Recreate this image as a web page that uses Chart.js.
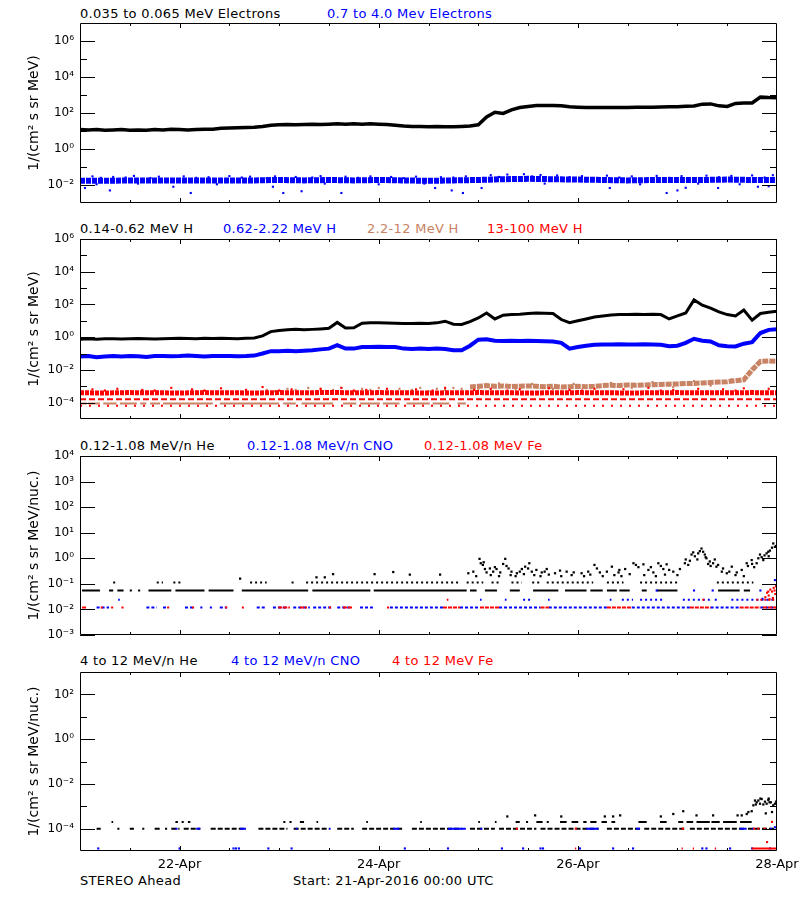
<!DOCTYPE html>
<html>
<head>
<meta charset="utf-8">
<script src="https://cdn.jsdelivr.net/npm/chart.js@4.4.1/dist/chart.umd.min.js"></script>
<style>
body { margin: 0; background: #fff; width: 800px; height: 900px; position: relative; font-family: 'DejaVu Sans', sans-serif; }
.lbl { position: absolute; font-size: 13px; letter-spacing: 0.3px; line-height: 16px; white-space: nowrap; }
.panel { position: absolute; left: 0; }
</style>
</head>
<body>
<div class="lbl" style="left:80px;top:6px">0.035 to 0.065 MeV Electrons</div>
<div class="lbl" style="left:327px;top:6px;color:#0000ff">0.7 to 4.0 Mev Electrons</div>

<div class="lbl" style="left:80px;top:221px">0.14-0.62 MeV H</div>
<div class="lbl" style="left:223px;top:221px;color:#0000ff">0.62-2.22 MeV H</div>
<div class="lbl" style="left:367px;top:221px;color:#c88264">2.2-12 MeV H</div>
<div class="lbl" style="left:487px;top:221px;color:#ff0000">13-100 MeV H</div>

<div class="lbl" style="left:80px;top:438px">0.12-1.08 MeV/n He</div>
<div class="lbl" style="left:247px;top:438px;color:#0000ff">0.12-1.08 MeV/n CNO</div>
<div class="lbl" style="left:424px;top:438px;color:#ff0000">0.12-1.08 MeV Fe</div>

<div class="lbl" style="left:80px;top:653px">4 to 12 MeV/n He</div>
<div class="lbl" style="left:231px;top:653px;color:#0000ff">4 to 12 MeV/n CNO</div>
<div class="lbl" style="left:392px;top:653px;color:#ff0000">4 to 12 MeV Fe</div>

<div class="lbl" style="left:80px;top:873px">STEREO Ahead</div>
<div class="lbl" style="left:293px;top:873px">Start: 21-Apr-2016 00:00 UTC</div>

<div class="panel" style="top:11px"><canvas id="c1" width="800" height="204"></canvas></div>
<div class="panel" style="top:227px"><canvas id="c2" width="800" height="204"></canvas></div>
<div class="panel" style="top:444px"><canvas id="c3" width="800" height="203"></canvas></div>
<div class="panel" style="top:660px"><canvas id="c4" width="800" height="221"></canvas></div>

<script>
// hours since 21-Apr-2016 00:00 UTC
const hours2 = [0,2,4,6,8,10,12,14,16,18,20,22,24,26,28,30,32,34,36,38,40,42,44,46,48,50,52,54,56,58,
  60,62,64,66,68,70,72,74,76,78,80,82,84,86,88,90,92,94,96,98,100,102,104,106,108,110,112,114,116,118,
  120,122,124,126,128,130,132,134,136,138,140,142,144,146,148,150,152,154,156,158,160,162,164,166,168];
const hours6 = [0,6,12,18,24,30,36,42,48,54,60,66,72,78,84,90,96,102,108,114,120,126,132,138,144,150,156,162,168];
const hoursLate = [94,96,98,100,102,104,106,108,110,112,114,116,118,120,122,124,126,128,130,132,
  134,136,138,140,142,144,146,148,150,152,154,156,158,160,162,164,166,168];
const dayTickHours = [24, 72, 120, 168];
const dayTickLabels = ['22-Apr', '24-Apr', '26-Apr', '28-Apr'];
const halfDayHours = [12,24,36,48,60,72,84,96,108,120,132,144,156];

// panel 1: electrons
const eLow = [12,11.5,12,11,11.5,12,11,11.5,11,12,11.5,12.5,12,11.5,12,12.5,12.5,14,14.5,15,
  15.5,16,18,21,22,23,22,23,24,23,24,25,24,25,24,25,24,23,21,19,
  18,18,17,18,17,17,18,19,22,60,110,95,150,200,230,260,265,262,250,220,
  210,205,205,200,205,200,205,210,212,210,215,220,225,235,245,310,320,250,230,340,
  355,360,760,720,700];
const eHigh = [0.017,0.017,0.018,0.018,0.018,0.018,0.018,0.018,0.019,0.018,0.019,0.018,0.019,0.018,0.017,
  0.018,0.019,0.021,0.022,0.021,0.02,0.019,0.018,0.019,0.019,0.019,0.02,0.019,0.019];
const eHighUpper = [[3,0.03],[8,0.028],[13,0.032],[19,0.029],[25,0.03],[31,0.027],[36,0.031],[41,0.029],[47,0.03],
  [52,0.028],[58,0.031],[64,0.029],[70,0.03],[75,0.028],[81,0.029],[87,0.027],[93,0.03],[99,0.035],[103,0.038],
  [107,0.04],[111,0.036],[115,0.034],[121,0.031],[127,0.033],[133,0.03],[139,0.032],[145,0.031],[151,0.033],
  [157,0.032],[162,0.034],[167,0.035],[5,0.025],[11,0.026],[17,0.024],[28,0.025],[39,0.026],[45,0.024],[56,0.026],
  [67,0.025],[78,0.024],[90,0.026],[101,0.028],[109,0.03],[118,0.027],[130,0.026],[142,0.025],[154,0.027],[165,0.026]];
const eHighLower = [[1.2,0.0068],[7.2,0.005],[22.5,0.008],[26.7,0.0036],[46.5,0.008],[49,0.0036],[53.4,0.0045],
  [63,0.0036],[85.6,0.0068],[89.6,0.005],[92.3,0.0036],[96.8,0.0068],[127.7,0.0068],[141.4,0.0036],[144,0.005],
  [146,0.007],[153.8,0.0068],[163.4,0.008],[166,0.0085],[4,0.011],[14,0.012],[33,0.011],[59,0.012],[72,0.011],
  [83,0.012],[112,0.012],[135,0.011],[149,0.012],[159,0.011]];

// panel 2: protons
const pLow = [0.75,0.8,0.75,0.8,0.8,0.78,0.8,0.82,0.8,0.78,0.8,0.82,0.85,0.82,0.8,0.85,0.82,0.85,0.82,0.8,
  0.85,0.9,1.2,2.2,2.6,2.8,3.0,2.8,3.0,3.2,3.5,8.0,3.6,3.8,7.2,7.5,7.6,7.4,7.2,6.9,
  6.9,7.0,6.8,7.5,9.5,6.2,6.0,9.0,15,30,13,22,24,25,28,30,29,28,12,7.6,
  10,13,17,20,23,24,24,25,24,25,24,13,20,30,190,90,60,35,24,20,
  45,11,28,33,38];
const pMid = [0.065,0.07,0.06,0.065,0.07,0.065,0.07,0.068,0.062,0.07,0.072,0.068,0.07,0.075,0.07,0.065,0.07,0.072,0.07,0.068,
  0.07,0.075,0.1,0.14,0.14,0.15,0.14,0.15,0.16,0.18,0.2,0.33,0.2,0.2,0.25,0.25,0.26,0.25,0.25,0.2,
  0.19,0.2,0.19,0.2,0.19,0.16,0.16,0.3,0.7,0.75,0.6,0.58,0.6,0.58,0.6,0.58,0.56,0.55,0.45,0.2,
  0.25,0.3,0.35,0.36,0.36,0.37,0.36,0.36,0.37,0.36,0.34,0.28,0.3,0.45,0.8,0.6,0.55,0.32,0.28,0.27,
  0.4,0.5,1.8,2.8,3.1];
const pHigh = [9e-4,1.0e-3,1.1e-3,1.0e-3,1.05e-3,0.95e-3,1.0e-3,1.05e-3,1.0e-3,0.95e-3,1.0e-3,0.9e-3,0.95e-3,1.0e-3,
  0.95e-3,1.0e-3,1.1e-3,1.15e-3,1.1e-3,1.2e-3,1.15e-3,1.2e-3,1.25e-3,1.3e-3,1.35e-3,1.4e-3,1.5e-3,1.5e-3,
  1.6e-3,1.7e-3,1.8e-3,1.9e-3,2.2e-3,2.5e-3,0.01,0.033,0.035,0.034];
const pHighEarlyRuns = [[0,1.6],[2,4.8],[5.6,8.8],[9.6,13.7],[14.5,16],[16.9,19.3],[20,32],[33.7,48],[49,52],
  [53.4,61],[63.4,66.6],[67.5,72.3],[73,77],[78.7,84.3],[85,89],[91,93]];
const pHighEarlyUpper = [[45,6e-4],[47,5e-4],[50,7e-4],[52,6e-4],[55,8e-4],[57,5e-4],[58,7e-4],[61,6e-4],[63,8e-4],
  [66,5e-4],[68,7e-4],[70,6e-4],[72,8e-4],[75,5e-4],[77,7e-4],[80,6e-4],[82,8e-4],[84,5e-4],[86,7e-4],[88,6e-4],
  [90,8e-4],[92,7e-4]];
const pHighLateScatter = [[96,7e-4],[101,1.5e-3],[105,7e-4],[109,1.4e-3],[114,7e-4],[119,1.4e-3],[123,7.5e-4],
  [128,1.6e-3],[133,8e-4],[138,1.8e-3],[143,9e-4],[148,2.1e-3],[152,1.1e-3],[157,2.6e-3]];
const pTop = [4.0e-4,3.9e-4,4.1e-4,4.0e-4,3.9e-4,4.1e-4,4.0e-4,3.9e-4,4.1e-4,4.0e-4,4.2e-4,4.0e-4,4.1e-4,4.0e-4,3.9e-4,
  4.0e-4,4.1e-4,4.0e-4,3.9e-4,4.0e-4,4.1e-4,4.0e-4,3.9e-4,4.0e-4,4.1e-4,4.0e-4,4.0e-4,4.1e-4,4.0e-4];
const pTopUpper = [[3,6.5e-4],[9,7e-4],[15,6e-4],[22,8e-4],[27,6.5e-4],[34,7.5e-4],[40,6e-4],[44,9e-4],[51,6.5e-4],
  [58,7e-4],[63,8e-4],[69,6e-4],[74,7e-4],[81,6.5e-4],[88,8e-4],[95,6e-4],[99,7e-4],[106,6.5e-4],[113,7.5e-4],
  [118,6e-4],[124,7e-4],[131,6.5e-4],[137,8e-4],[143,6e-4],[149,7e-4],[155,6.5e-4],[160,7.5e-4],[166,7e-4],
  [6,5.5e-4],[18,5.5e-4],[30,5.5e-4],[48,5.5e-4],[66,5.5e-4],[85,5.5e-4],[103,5.5e-4],[121,5.5e-4],[140,5.5e-4],[158,5.5e-4]];

// panel 3: 0.12-1.08 MeV/n ions
const heRowLow = [[0.5,4.8],[7,8],[9,10.5],[12,12.5],[14,14.5],[16.5,22],[23,30],[31,37],[39,55],[56,70],
  [70.8,93.2],[94,95.6],[97.6,100.5],[103.6,106],[109.2,115.3],[116.9,122.1],[123,126],[127,129.4],[130,132.5],
  [135.4,136.6],[139,144],[153.8,159],[160,161.5]];
const heRowHigh = [[8,8.5],[18.5,20],[22.5,24.5],[41,45],[51,51.5],[54.5,91.6],[93.2,97.2],[99.2,101.3],[104,106.5],
  [109,110.9],[112.5,123.7],[127,131],[135,144.6],[153.5,162.3]];
const heCloud = [[38.6,0.16],[57,0.18],[59,0.18],[61,0.24],[71,0.24],[75.5,0.29],[79.5,0.23],[86.8,0.23],
  [93.6,0.26],[94.8,0.3],[96.3,0.95],[96.6,0.64],[97.1,0.55],[97.6,0.38],[98,0.28],[98.8,0.4],[99.6,0.3],[100.4,0.38],
  [101.3,0.28],[102,0.6],[102.5,0.95],[103.3,0.4],[104,0.3],[105.3,0.26],[106.5,0.38],[107.3,0.47],[108.3,0.64],[108.9,0.3],
  [110,0.35],[111.3,0.28],[112.5,0.38],[114.5,0.26],[115.7,0.33],[117.3,0.3],[120.9,0.26],[122.5,0.3],[124,0.55],[125.3,0.28],
  [127,0.3],[128.2,0.47],[129.8,0.28],[131.4,0.38],[133.4,0.64],[134.6,0.45],[135.8,0.58],[137,0.35],[138.2,0.28],[139.4,0.64],
  [140.6,0.38],[141.4,0.58],[143,0.3],[144.6,0.38],[145.8,0.64],[146.6,0.55],[147.4,1.4],[148.2,1.2],[149,1.56],[149.8,2.4],
  [150.6,1.4],[151,1.0],[151.8,0.75],[152.6,0.64],[153.4,0.47],[154.7,0.3],[155.9,0.26],[157.1,0.47],[158.3,0.28],[159.5,0.35],
  [160.7,0.64],[161.9,0.85],[163.1,0.64],[163.9,1.4],[164.7,0.85],[165.5,1.56],[166.3,2.0],[167.1,3.8],[167.5,2.8],
  [95.5,0.2],[99,0.22],[101,0.2],[103.8,0.22],[105,0.2],[107,0.24],[109.5,0.22],[111,0.2],[113,0.23],[116,0.2],
  [118.5,0.22],[121.5,0.2],[123,0.23],[126,0.2],[128.8,0.22],[130.5,0.2],[132.5,0.24],[136,0.22],[138.8,0.2],[141,0.23],
  [144,0.22],[147,0.8],[148.8,0.9],[150.2,1.8],[152,0.5],[153,0.9],[155,0.4],[158,0.22],[160,0.2],[162.5,0.45],
  [164.3,1.1],[166,1.2],[166.8,2.6],[168,3.2],[97.3,0.7],[100,0.45],[102.8,0.5],[106,0.3],[108,0.4],[112,0.3],
  [119,0.28],[124.6,0.4],[130,0.35],[134,0.55],[137.6,0.45],[140,0.5],[142,0.35],[146,0.9],[147.8,1.7],[149.4,1.9],
  [150.8,1.1],[151.4,0.6],[153.8,0.55],[156.5,0.3],[161,0.5],[162,0.6],[163.5,1.0],[165,1.3],[165.9,1.8],[167.8,3.0]];
const cnoRowLow = [[4,7],[16,18.5],[20,21],[25.3,27.2],[29,29.5],[31.3,31.8],[33.7,35.4],[42.6,45],[46.5,50],[51.4,55.4],
  [56.2,61],[62,65],[67.5,70.6],[74.7,87.5],[91.6,96.4],[101,111],[113,127],[133,147],[152,159],[164,168]];
const cnoRowHigh = [[9.2,9.6],[96.4,96.8],[102.4,102.8],[106.8,108.5],[112.8,113.2],[127.7,128.1],[130.6,133.3],
  [135,140.5],[145.3,151.8],[153,154],[157,168]];
const cnoDots = [[139,0.055],[148,0.055],[152.5,0.055],[164,0.055],[167.5,0.14],[167.8,0.09],[164.5,0.026]];
const feRowLow = [[0.5,1.7],[5,5.5],[7.5,8],[10,10.5],[21,21.5],[27,27.5],[35,35.5],[39,39.5],[47.8,50.6],[53,54.7],
  [60,60.5],[63.4,65.8],[74,74.5],[87.5,91.6],[96.4,101],[111,113],[127,133],[147,152],[159,164],[164.6,168]];
const feRowHigh = [[88.4,88.8],[150,150.5],[163,168]];
const feCloud = [[165.2,0.03],[165.6,0.045],[166,0.035],[166.4,0.06],[166.8,0.05],[167.2,0.07],[167.6,0.04],
  [167.8,0.08],[166.2,0.025],[167,0.028],[165.9,0.05],[167.4,0.055]];

// panel 4: 4-12 MeV/n ions
const heHRowLow = [[4,5],[9,9.5],[12,13],[15,15.5],[18,19.5],[20.5,21],[22,24],[25,29],[31.5,40],[43,50],[51.5,60],
  [62,66],[68,78],[80,92],[94,100],[101,110],[111,125],[127,135],[136,146],[147,160],[161,168]];
const heHRowHigh = [[7.6,8],[23,23.6],[24.5,25],[26,26.6],[49,49.5],[50.5,51],[53,54],[57,57.4],[69,69.4],[82,82.4],
  [96,96.4],[100,100.4],[105,106],[107.5,108],[110,111.5],[112.5,113],[115.7,117.3],[118.5,120.1],[121.3,122.1],
  [123,124.5],[125.7,127],[128.1,129],[134.6,136.6],[139.8,141.4],[144.2,145.4],[146.2,147.8],[148.6,151.8],
  [152.2,154.2],[155,158.3],[159.1,161.9]];
const heHDots = [[161.1,5.5e-4],[161.9,6e-4],[162.3,1.1e-3],[162.7,1.8e-3],[163.1,1.5e-3],[163.5,1.8e-3],[163.9,1.3e-3],
  [164.3,2.1e-3],[164.7,1.2e-3],[165.1,1.6e-3],[165.5,1.3e-3],[165.9,1.9e-3],[166.2,1.5e-3],[166.5,1.5e-3],[166.8,5.5e-4],
  [167.1,1.1e-3],[167.5,1.3e-3],[167.8,1.6e-3],[165.3,4.8e-4],[164,2.2e-3],[162.9,1.2e-3],[166,2.2e-3],
  [116,3.5e-4],[126.5,3.5e-4],[128.5,3.5e-4],[130.2,3.9e-4],[140,3.5e-4],[143,4.5e-4],[145.4,6e-4],[148.6,3.9e-4],
  [152.6,3.9e-4],[158.5,3.9e-4],[159.5,3.9e-4],[160.7,4.5e-4],[109.7,3.9e-4],[103,3.5e-4]];
const cnoHRow = [[23,23.5],[28,29],[38.6,40],[52,52.4],[60,60.4],[75.5,77],[88.7,93],[96.5,97],[122,125],[134,135],
  [159,160.7],[162,162.5],[166.3,166.8]];
const cnoHLowHours = [4.4,24,37,37.6,38.3,45.4,51,78.3,88.7,101.7,106.8,111,111.6,120.5,128.5,133.3,150,151,156.7,162,166.3];
const cnoHEnd = [[167.5,1.15e-4],[168,1.2e-4]];
const feHLowRuns = [[119.3,119.6],[145,145.3],[147.7,148],[153,153.3],[161.9,168]];
const feHDots = [[165.6,2.5e-5],[105.3,1e-4],[119.5,1e-4],[145.3,1e-4],[162.5,1e-4],[163.5,1e-4],[165,1e-4],[166.8,2e-4]];

const BLACK = '#000000', BLUE = '#0000ff', RED = '#ff0000', TAN = '#c88264';
Chart.defaults.font.family = "'DejaVu Sans', sans-serif";
Chart.defaults.color = '#000';

const SUP = {'-': '\u207b', '0': '\u2070', '1': '\u00b9', '2': '\u00b2', '3': '\u00b3', '4': '\u2074',
  '5': '\u2075', '6': '\u2076', '7': '\u2077', '8': '\u2078', '9': '\u2079'};
function power(v) {
  const e = Math.round(Math.log10(v));
  return '10' + String(e).split('').map(c => SUP[c]).join('');
}

function trace(hs, vs, color, width, dash) {
  return { data: hs.map((h, i) => ({x: h, y: vs[i]})), borderColor: color, borderWidth: width,
    borderDash: dash || [], pointRadius: 0, tension: 0, fill: false };
}
function runs(list, value, color, width, dash) {
  const data = [];
  list.forEach(([a, b]) => { data.push({x: a, y: value}, {x: b, y: value}, {x: b, y: null}); });
  return { data, borderColor: color, borderWidth: width, borderDash: dash || [], pointRadius: 0,
    spanGaps: false, borderCapStyle: 'butt' };
}
function dots(pairs, color, r) {
  return { data: pairs.map(([h, v]) => ({x: h, y: v})), showLine: false, pointStyle: 'rect',
    pointRadius: r, pointBorderWidth: 0, pointBackgroundColor: color, backgroundColor: color, borderColor: color };
}

// box, inward ticks on all four sides
const frameTicks = {
  id: 'frameTicks',
  afterDatasetsDraw(chart, args, opts) {
    const {ctx, chartArea: a} = chart;
    const xs = chart.scales.x, ys = chart.scales.y;
    ctx.save();
    ctx.strokeStyle = '#000';
    ctx.lineWidth = 1;
    ctx.beginPath();
    ctx.rect(a.left + 0.5, a.top + 0.5, a.right - a.left - 1, a.bottom - a.top - 1);
    const yTick = (v, len) => {
      const p = Math.round(ys.getPixelForValue(v)) + 0.5;
      ctx.moveTo(a.left, p); ctx.lineTo(a.left + len, p);
      ctx.moveTo(a.right, p); ctx.lineTo(a.right - len, p);
    };
    opts.yMajor.forEach(v => yTick(v, 15));
    opts.yMinor.forEach(v => yTick(v, 7));
    halfDayHours.forEach(h => {
      const p = Math.round(xs.getPixelForValue(h)) + 0.5;
      const len = dayTickHours.includes(h) ? 5 : 3;
      ctx.moveTo(p, a.top); ctx.lineTo(p, a.top + len);
      ctx.moveTo(p, a.bottom); ctx.lineTo(p, a.bottom - len);
    });
    ctx.stroke();
    ctx.restore();
  }
};

function xScale(show) {
  return {
    type: 'linear', min: 0, max: 168, display: show,
    afterBuildTicks: s => { s.ticks = dayTickHours.map(v => ({value: v})); },
    afterFit: s => { if (show) { s.height = 24; s.paddingLeft = 0; s.paddingRight = 0; } },
    grid: {display: false, drawTicks: false}, border: {display: false},
    ticks: {padding: 6, maxRotation: 0, autoSkip: false, font: {size: 13}, callback: (v, i) => dayTickLabels[i]}
  };
}
function yScale(min, max, labelled, title) {
  return {
    type: 'logarithmic', min, max,
    afterBuildTicks: s => { s.ticks = labelled.map(v => ({value: v})); },
    afterFit: s => { s.width = 80; s.paddingTop = 0; s.paddingBottom = 0; },
    grid: {display: false, drawTicks: false}, border: {display: false},
    ticks: {padding: 6, autoSkip: false, font: {size: 12}, callback: v => power(v)},
    title: {display: true, text: title, font: {size: 14}, padding: {top: 26, bottom: 0}}
  };
}

function panel(id, datasets, y, yMajor, yMinor, showX) {
  new Chart(document.getElementById(id), {
    type: 'line',
    data: {datasets},
    options: {
      responsive: false, animation: false, events: [],
      layout: {padding: {left: 0, right: 23, top: 12, bottom: showX ? 6 : 12}},
      plugins: {legend: {display: false}, tooltip: {enabled: false}, frameTicks: {yMajor, yMinor}},
      scales: {x: xScale(showX), y}
    },
    plugins: [frameTicks]
  });
}

const unitE = '1/(cm\u00b2 s sr MeV)';
const unitN = '1/(cm\u00b2 s sr MeV/nuc.)';

panel('c1', [
  dots(eHighLower, BLUE, 1.5),
  dots(eHighUpper, BLUE, 1.5),
  trace(hours6, eHigh, BLUE, 6, [5, 1]),
  trace(hours2, eLow, BLACK, 3.5)
], yScale(1e-3, 1e7, [1e-2, 1, 1e2, 1e4, 1e6], unitE),
  [1e-2, 1, 1e2, 1e4, 1e6], [1e-1, 1e1, 1e3, 1e5], false);

panel('c2', [
  dots(pTopUpper, RED, 1.5),
  trace(hours6, pTop, RED, 5, [4, 1]),
  runs([[0, 168]], 1.6e-4, RED, 2, [6, 3]),
  runs([[0, 168]], 6.5e-5, RED, 2, [2, 7]),
  runs(pHighEarlyRuns, 9e-5, TAN, 2),
  dots(pHighEarlyUpper, TAN, 1.5),
  dots(pHighLateScatter, TAN, 1.5),
  trace(hoursLate, pHigh, TAN, 5, [6, 1]),
  trace(hours2, pMid, BLUE, 4),
  trace(hours2, pLow, BLACK, 3)
], yScale(1e-5, 1e6, [1e-4, 1e-2, 1, 1e2, 1e4, 1e6], unitE),
  [1e-4, 1e-2, 1, 1e2, 1e4, 1e6], [1e-3, 1e-1, 1e1, 1e3, 1e5], false);

panel('c3', [
  dots(feCloud, RED, 1.5),
  runs(feRowLow, 0.012, RED, 2, [4, 1]),
  runs(feRowHigh, 0.024, RED, 2, [2, 2]),
  dots(cnoDots, BLUE, 1.5),
  runs(cnoRowLow, 0.012, BLUE, 2, [3, 2]),
  runs(cnoRowHigh, 0.024, BLUE, 2, [2, 3]),
  dots(heCloud, BLACK, 1.6),
  runs(heRowHigh, 0.114, BLACK, 2, [2, 3]),
  runs(heRowLow, 0.055, BLACK, 2)
], yScale(1e-3, 1e4, [1e-3, 1e-2, 1e-1, 1, 1e1, 1e2, 1e3, 1e4], unitN),
  [1e-3, 1e-2, 1e-1, 1, 1e1, 1e2, 1e3, 1e4], [], false);

panel('c4', [
  dots(feHDots, RED, 1.5),
  runs(feHLowRuns, 1.3e-5, RED, 2),
  dots(cnoHEnd, BLUE, 1.5),
  dots(cnoHLowHours.map(h => [h, 1.3e-5]), BLUE, 1.5),
  runs(cnoHRow, 1e-4, BLUE, 2),
  dots(heHDots, BLACK, 1.6),
  runs(heHRowHigh, 2e-4, BLACK, 2),
  runs(heHRowLow, 1e-4, BLACK, 2, [5, 2])
], yScale(1e-5, 1e3, [1e-4, 1e-2, 1, 1e2], unitN),
  [1e-4, 1e-2, 1, 1e2], [1e-3, 1e-1, 1e1], true);
</script>
</body>
</html>
